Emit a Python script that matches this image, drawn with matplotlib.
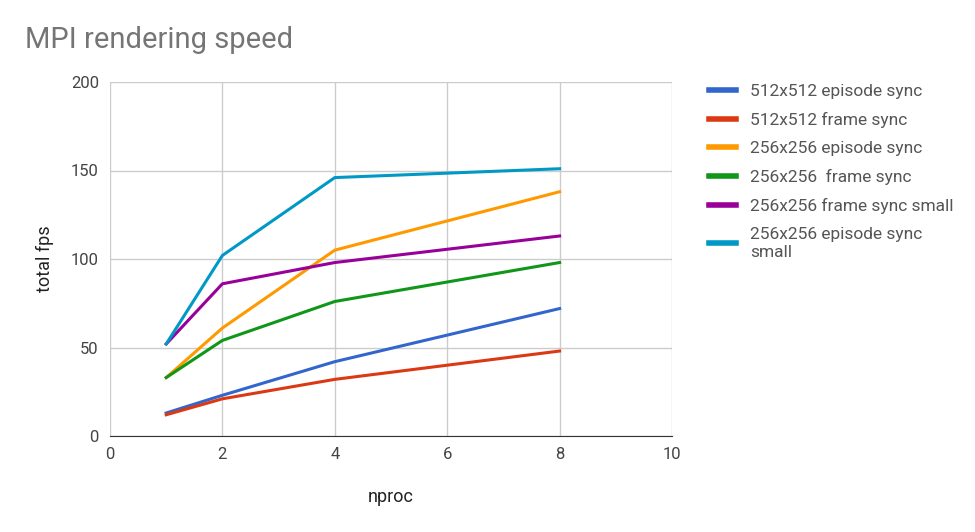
import matplotlib
matplotlib.use("Agg")
import matplotlib.pyplot as plt
from matplotlib.lines import Line2D

nproc = [1, 2, 4, 8]
labels = ["512x512 episode sync", "512x512 frame sync", "256x256 episode sync",
          "256x256  frame sync", "256x256 frame sync small", "256x256 episode sync\nsmall"]
s512_ep = [13, 23, 42, 72]
s512_fr = [12, 21, 32, 48]
s256_ep = [33, 61, 105, 138]
s256_fr = [33, 54, 76, 98]
s256_fr_small = [52, 86, 98, 113]
s256_ep_small = [52, 102, 146, 151]
series = [s512_ep, s512_fr, s256_ep, s256_fr, s256_fr_small, s256_ep_small]
colors = ["#3366cc", "#dc3912", "#ff9900", "#109618", "#990099", "#0099c6"]

plt.rcParams['font.family'] = ['Roboto', 'DejaVu Sans']
fig = plt.figure(figsize=(9.75, 5.32), dpi=100)
ax = fig.add_axes([110/975, 1-436/532, 562/975, 354/532])
for s, c, l in zip(series, colors, labels):
    ax.plot(nproc, s, color=c, lw=2.2, label=l)
ax.set_xlim(0, 10)
ax.set_ylim(0, 200)
ax.set_xticks([0, 2, 4, 6, 8, 10])
ax.set_yticks([0, 50, 100, 150, 200])
ax.grid(color="#cccccc", lw=1)
ax.set_axisbelow(True)
for sp in ["top", "right", "left"]:
    ax.spines[sp].set_visible(False)
ax.spines["bottom"].set_color("#333333")
ax.tick_params(length=0, labelsize=12, colors="#444444", pad=8)
fig.text(391/975, 1-497/532, "nproc", fontsize=13, color="#222222", ha="center", va="center")
ax.set_ylabel("total fps", fontsize=13, color="#222222", labelpad=12)
fig.text(25/975, 1-40/532, "MPI rendering speed", fontsize=21, color="#757575", va="center")

handles = [Line2D([], [], color=c, lw=4) for c in colors]
fig.legend(handles, labels, loc="upper left", bbox_to_anchor=(693/975, 1-68/532),
           frameon=False, fontsize=12.5, handlelength=1.6, labelspacing=0.75,
           labelcolor="#555555")
fig.savefig("out.png", dpi=100)
